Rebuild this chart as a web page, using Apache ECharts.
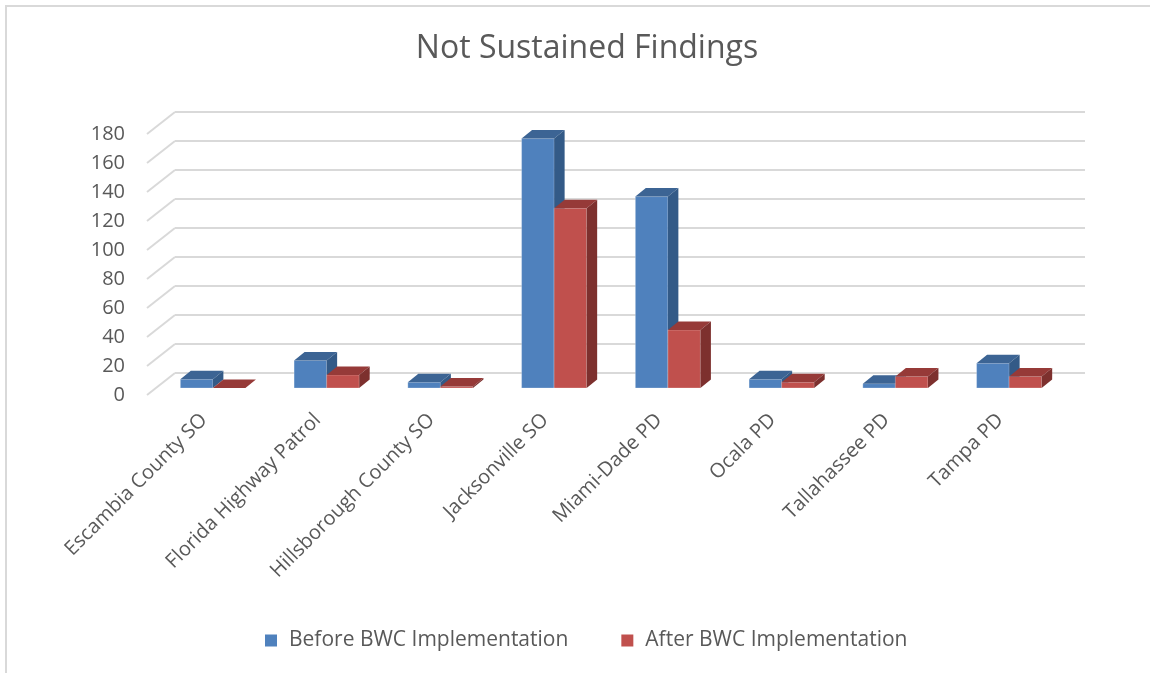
<!DOCTYPE html>
<html>
<head>
<meta charset="utf-8">
<script src="https://cdn.jsdelivr.net/npm/echarts@6/dist/echarts.min.js"></script>
<style>
    html, body { margin: 0; padding: 0; background: #fff; }
    #main { width: 1150px; height: 673px; }
    #frame { position: absolute; left: 5px; top: 5px; width: 1200px; height: 700px;
             border-left: 2px solid #d9d9d9; border-top: 2px solid #d9d9d9; pointer-events: none; }
</style>
</head>
<body>
<div id="main"></div>
<div id="frame"></div>
<script>
var categories = ['Escambia County SO', 'Florida Highway Patrol', 'Hillsborough County SO', 'Jacksonville SO',
    'Miami-Dade PD', 'Ocala PD', 'Tallahassee PD', 'Tampa PD'];
var beforeData = [6, 19, 4, 172, 132, 6, 3, 17];
var afterData = [0, 9, 1, 124, 40, 4, 8, 8];
var yTicks = [0, 20, 40, 60, 80, 100, 120, 140, 160, 180];

// depth of the floor (back wall -> front edge) and of a bar
var wallDx = -28, wallDy = 22;
var barShiftX = -19, barShiftY = 15;
var depthX = 10.5, depthY = 8.5;

var fontName = '"Open Sans", sans-serif';

function makeBar(front, top, side, isBefore) {
    return function (params, api) {
        var base = api.coord([api.value(0), 0]);
        var tip = api.coord([api.value(0), api.value(1)]);
        var band = api.size([1, 0])[0];
        var bw = band * 0.286;
        var x = base[0] + barShiftX + (isBefore ? -bw : 0);
        var yb = base[1] + barShiftY;
        var yt = tip[1] + barShiftY;
        return {
            type: 'group',
            children: [
                { type: 'rect', shape: { x: x, y: yt, width: bw, height: yb - yt },
                  style: { fill: front, stroke: 'rgba(255,255,255,0.25)', lineWidth: 1 } },
                { type: 'polygon', shape: { points: [[x, yt], [x + bw, yt], [x + bw + depthX, yt - depthY], [x + depthX, yt - depthY]] },
                  style: { fill: top } },
                { type: 'polygon', shape: { points: [[x + bw, yt], [x + bw + depthX, yt - depthY], [x + bw + depthX, yb - depthY], [x + bw, yb]] },
                  style: { fill: side } }
            ]
        };
    };
}

var myChart = echarts.init(document.getElementById('main'));

var option = {
    animation: false,
    title: {
        text: 'Not Sustained Findings',
        left: 582,
        textAlign: 'center',
        top: 28,
        textStyle: { fontFamily: fontName, fontSize: 32, fontWeight: 'normal', color: '#595959' }
    },
    legend: {
        data: ['Before BWC Implementation', 'After BWC Implementation'],
        left: 260,
        top: 625,
        itemWidth: 12,
        itemHeight: 12,
        itemGap: 53,
        icon: 'rect',
        textStyle: { fontFamily: fontName, fontSize: 21, color: '#595959', padding: [0, 0, 0, 7] }
    },
    grid: [
        // back wall
        { left: 175, right: 65, top: 112, bottom: 300 },
        // front edge, used for the labels
        { left: 147, right: 93, top: 134, bottom: 278 }
    ],
    xAxis: [
        { gridIndex: 0, type: 'category', data: categories, axisLine: { show: false }, axisTick: { show: false }, axisLabel: { show: false } },
        { gridIndex: 1, type: 'category', data: categories, axisLine: { show: false }, axisTick: { show: false },
          axisLabel: { rotate: 45, margin: 22, interval: 0, fontFamily: fontName, fontSize: 20, color: '#595959' } }
    ],
    yAxis: [
        { gridIndex: 0, type: 'value', min: 0, max: 180, interval: 20, axisLabel: { show: false },
          axisLine: { show: false }, axisTick: { show: false },
          splitLine: { lineStyle: { color: '#d9d9d9', width: 2 } } },
        { gridIndex: 1, type: 'value', min: 0, max: 180, interval: 20, splitLine: { show: false },
          axisLine: { show: false }, axisTick: { show: false },
          axisLabel: { margin: 22, fontFamily: fontName, fontSize: 20, color: '#595959' } }
    ],
    series: [
        {
            name: 'floor',
            type: 'custom',
            xAxisIndex: 0,
            yAxisIndex: 0,
            silent: true,
            data: yTicks.map(function (v) { return [0, v]; }),
            renderItem: function (params, api) {
                var p = api.coord([0, api.value(1)]);
                var x0 = params.coordSys.x;
                return {
                    type: 'line',
                    shape: { x1: x0, y1: p[1], x2: x0 + wallDx, y2: p[1] + wallDy },
                    style: { stroke: '#d9d9d9', lineWidth: 2 }
                };
            }
        },
        {
            name: 'Before BWC Implementation',
            type: 'custom',
            xAxisIndex: 0,
            yAxisIndex: 0,
            itemStyle: { color: '#4f81bd' },
            data: beforeData.map(function (v, i) { return [i, v]; }),
            renderItem: makeBar('#4f81bd', '#3c6494', '#335a87', true)
        },
        {
            name: 'After BWC Implementation',
            type: 'custom',
            xAxisIndex: 0,
            yAxisIndex: 0,
            itemStyle: { color: '#c0504d' },
            data: afterData.map(function (v, i) { return [i, v]; }),
            renderItem: makeBar('#c0504d', '#963a38', '#7d302e', false)
        }
    ]
};

myChart.setOption(option);
</script>
</body>
</html>
